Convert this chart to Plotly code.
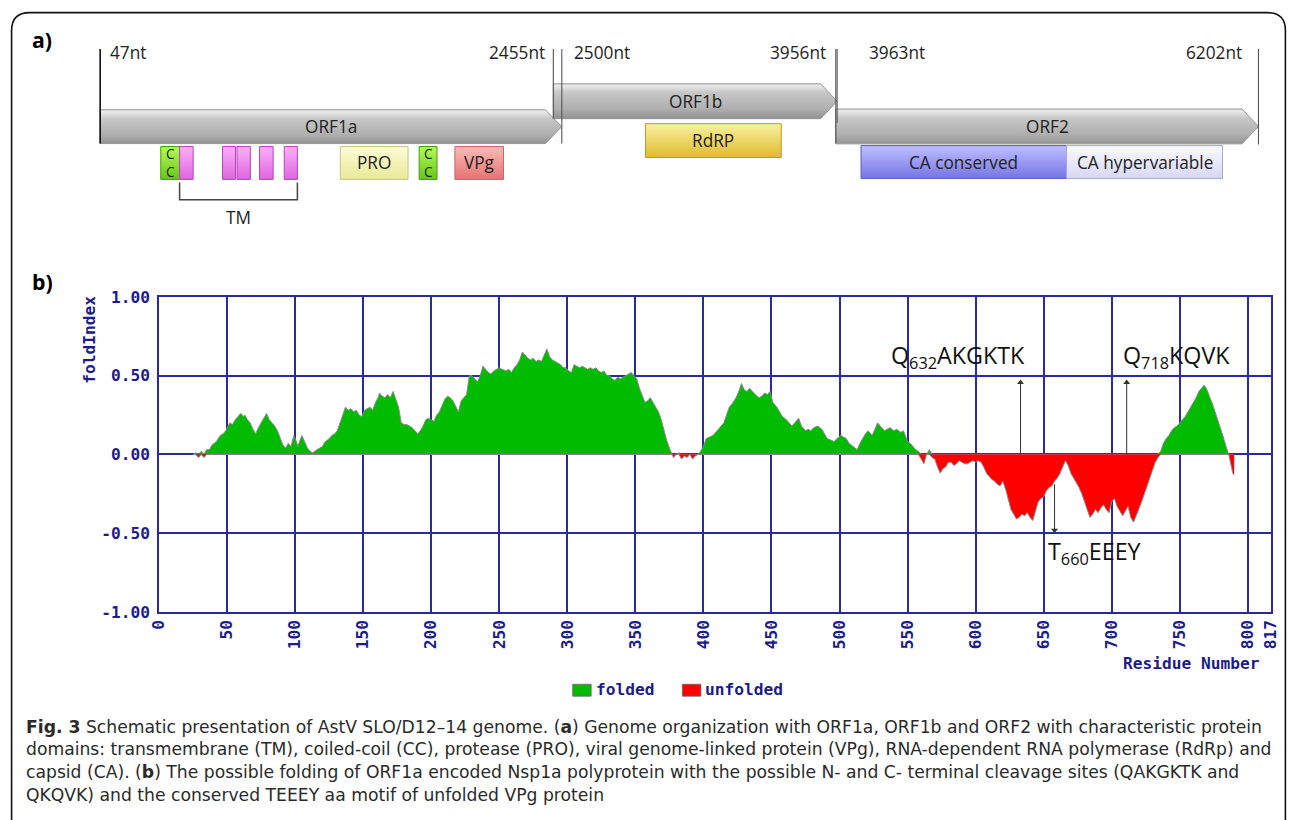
import plotly.graph_objects as go

# ---------------- data ----------------
# Panel a: genome organisation (nt)
MARK_NT = [47, 2455, 2500, 3956, 3963, 6202]
MARK_LABELS = ["47nt", "2455nt", "2500nt", "3956nt", "3963nt", "6202nt"]

ORF_NAMES = ["ORF1a", "ORF1b", "ORF2"]
ORF_START = [47, 2455, 3956]
ORF_END = [2500, 3963, 6202]

DOMAIN_NAMES = ["CC", "TM", "TM", "TM", "TM", "TM", "PRO", "CC", "VPg",
                "RdRP", "CA conserved", "CA hypervariable"]
DOMAIN_ORF = ["ORF1a"] * 9 + ["ORF1b", "ORF2", "ORF2"]
DOMAIN_START = [369, 469, 697, 774, 894, 1025, 1323, 1742, 1932, 2945, 4090, 5182]
DOMAIN_END = [469, 541, 766, 845, 966, 1095, 1683, 1837, 2190, 3666, 5182, 6011]

# Panel b: FoldIndex profile
RESIDUE = [25, 27, 29, 31, 33, 35, 37, 39, 42, 45, 47, 49, 52, 54, 56, 58, 60, 62, 63, 65,
           67, 69, 71, 73, 75, 77, 79, 81, 83, 85, 87, 89, 91, 93, 95, 97, 99, 101, 102, 104,
           105, 107, 109, 111, 113, 116, 118, 120, 122, 125, 127, 129, 131, 133, 135, 137, 139, 141, 143, 145,
           147, 149, 151, 153, 155, 157, 159, 161, 162, 164, 166, 168, 170, 172, 174, 176, 178, 180, 182, 184,
           186, 188, 190, 192, 194, 196, 198, 200, 202, 204, 206, 208, 210, 212, 214, 216, 218, 220, 222, 224,
           226, 228, 230, 232, 234, 236, 238, 240, 242, 244, 246, 248, 250, 252, 255, 257, 259, 261, 263, 265,
           267, 269, 271, 273, 275, 277, 279, 281, 283, 285, 287, 289, 291, 293, 295, 297, 299, 301, 303, 305,
           307, 309, 311, 313, 315, 317, 319, 321, 323, 325, 327, 329, 331, 333, 335, 337, 339, 341, 343, 345,
           347, 349, 351, 353, 355, 357, 359, 361, 363, 365, 367, 369, 371, 373, 375, 377, 378, 380, 382, 384,
           386, 388, 390, 392, 394, 396, 398, 400, 402, 404, 407, 410, 412, 415, 417, 419, 421, 424, 426, 428,
           430, 432, 434, 436, 438, 441, 443, 445, 447, 449, 451, 454, 456, 458, 461, 463, 465, 467, 470, 472,
           475, 477, 479, 481, 484, 487, 489, 491, 494, 496, 498, 501, 503, 505, 507, 510, 513, 515, 517, 519,
           521, 524, 526, 528, 530, 533, 535, 537, 540, 542, 545, 547, 550, 552, 554, 556, 558, 560, 562, 564,
           566, 568, 570, 572, 574, 576, 578, 580, 582, 584, 586, 588, 590, 592, 594, 596, 598, 600, 602, 604,
           606, 608, 610, 612, 614, 616, 618, 620, 622, 624, 626, 628, 630, 632, 634, 636, 638, 640, 642, 644,
           646, 648, 650, 652, 654, 656, 658, 660, 662, 664, 666, 668, 670, 672, 674, 676, 678, 680, 682, 684,
           686, 688, 690, 692, 694, 696, 698, 700, 702, 704, 706, 708, 710, 712, 714, 716, 718, 720, 722, 724,
           726, 728, 730, 732, 734, 736, 738, 740, 742, 744, 746, 748, 750, 752, 754, 756, 758, 760, 762, 764,
           766, 768, 770, 772, 774, 776, 778, 780, 782, 784, 786, 787, 788, 789, 790]
FOLD_INDEX = [0.0, 0.01, -0.02, 0.02, -0.02, 0.03, 0.03, 0.06, 0.08, 0.12, 0.13, 0.15, 0.2, 0.19, 0.22, 0.24, 0.26, 0.24, 0.25, 0.22,
              0.2, 0.16, 0.13, 0.17, 0.2, 0.23, 0.26, 0.22, 0.2, 0.18, 0.15, 0.1, 0.06, 0.04, 0.07, 0.05, 0.12, 0.08, 0.05, 0.1,
              0.12, 0.08, 0.04, 0.02, 0.01, 0.03, 0.04, 0.05, 0.08, 0.1, 0.12, 0.13, 0.15, 0.2, 0.26, 0.3, 0.28, 0.29, 0.27, 0.28,
              0.25, 0.24, 0.28, 0.29, 0.3, 0.28, 0.33, 0.36, 0.39, 0.37, 0.36, 0.38, 0.36, 0.4, 0.35, 0.3, 0.2, 0.19, 0.19, 0.18,
              0.17, 0.15, 0.13, 0.15, 0.18, 0.22, 0.23, 0.22, 0.21, 0.25, 0.27, 0.31, 0.35, 0.37, 0.36, 0.34, 0.3, 0.27, 0.34, 0.36,
              0.38, 0.5, 0.5, 0.48, 0.46, 0.5, 0.56, 0.54, 0.52, 0.51, 0.53, 0.54, 0.55, 0.54, 0.53, 0.54, 0.52, 0.55, 0.57, 0.6,
              0.65, 0.63, 0.61, 0.6, 0.61, 0.59, 0.6, 0.59, 0.63, 0.67, 0.62, 0.6, 0.59, 0.58, 0.57, 0.55, 0.55, 0.53, 0.52, 0.57,
              0.56, 0.55, 0.56, 0.55, 0.54, 0.55, 0.54, 0.55, 0.53, 0.52, 0.53, 0.5, 0.5, 0.48, 0.47, 0.49, 0.48, 0.49, 0.5, 0.51,
              0.52, 0.5, 0.48, 0.42, 0.38, 0.33, 0.34, 0.36, 0.33, 0.3, 0.27, 0.22, 0.15, 0.09, 0.04, 0.0, -0.02, 0.0, 0.01, -0.03,
              -0.01, -0.02, 0.0, -0.03, -0.01, 0.0, 0.02, 0.05, 0.1, 0.11, 0.12, 0.15, 0.17, 0.2, 0.25, 0.3, 0.32, 0.36, 0.4, 0.45,
              0.41, 0.4, 0.42, 0.4, 0.38, 0.36, 0.37, 0.39, 0.38, 0.4, 0.33, 0.3, 0.27, 0.24, 0.22, 0.2, 0.18, 0.2, 0.23, 0.18,
              0.15, 0.16, 0.15, 0.17, 0.18, 0.16, 0.13, 0.1, 0.09, 0.08, 0.1, 0.12, 0.11, 0.1, 0.07, 0.05, 0.03, 0.07, 0.1, 0.13,
              0.15, 0.12, 0.16, 0.2, 0.18, 0.15, 0.16, 0.17, 0.15, 0.16, 0.14, 0.15, 0.08, 0.07, 0.05, 0.03, 0.02, -0.03, -0.06, 0.0,
              0.03, -0.02, -0.03, -0.08, -0.12, -0.09, -0.08, -0.05, -0.05, -0.07, -0.06, -0.04, -0.05, -0.06, -0.06, -0.05, -0.04, -0.05, -0.04, -0.05,
              -0.08, -0.12, -0.14, -0.16, -0.17, -0.19, -0.2, -0.17, -0.22, -0.28, -0.35, -0.38, -0.41, -0.4, -0.38, -0.39, -0.37, -0.4, -0.42, -0.36,
              -0.3, -0.28, -0.27, -0.23, -0.21, -0.2, -0.17, -0.15, -0.12, -0.08, -0.04, -0.07, -0.12, -0.15, -0.18, -0.21, -0.25, -0.3, -0.34, -0.4,
              -0.38, -0.35, -0.37, -0.34, -0.32, -0.35, -0.37, -0.3, -0.28, -0.33, -0.36, -0.39, -0.36, -0.33, -0.4, -0.43, -0.39, -0.35, -0.3, -0.25,
              -0.2, -0.14, -0.1, -0.05, -0.02, 0.02, 0.07, 0.1, 0.12, 0.15, 0.17, 0.18, 0.2, 0.22, 0.24, 0.27, 0.3, 0.33, 0.36, 0.4,
              0.42, 0.44, 0.41, 0.37, 0.32, 0.27, 0.22, 0.17, 0.11, 0.05, 0.0, -0.04, -0.08, -0.12, -0.13]

X_TICKS = [0, 50, 100, 150, 200, 250, 300, 350, 400, 450, 500, 550, 600, 650, 700, 750, 800, 817]
Y_TICKS = [1.0, 0.5, 0.0, -0.5, -1.0]
Y_TICK_TEXT = ["1.00", "0.50", "0.00", "-0.50", "-1.00"]

CLEAVAGE_RES = [633, 711]
CLEAVAGE_LABELS = ["Q<sub>632</sub>AKGKTK", "Q<sub>718</sub>KQVK"]
MOTIF_RES = 658
MOTIF_LABEL = "T<sub>660</sub>EEEY"

CAPTION = [
    "<b>Fig. 3</b> Schematic presentation of AstV SLO/D12–14 genome. (<b>a</b>) Genome organization with ORF1a, ORF1b and ORF2 with characteristic protein",
    "domains: transmembrane (TM), coiled-coil (CC), protease (PRO), viral genome-linked protein (VPg), RNA-dependent RNA polymerase (RdRp) and",
    "capsid (CA). (<b>b</b>) The possible folding of ORF1a encoded Nsp1a polyprotein with the possible N- and C- terminal cleavage sites (QAKGKTK and",
    "QKQVK) and the conserved TEEEY aa motif of unfolded VPg protein",
]

# ---------------- styling ----------------
W, H = 1295, 820
NAVY = "#2a2a9e"
TXT_NAVY = "#1c1c8a"
MONO = "DejaVu Sans Mono"
SANS = "Open Sans"
FS = 1.013  # font compensation for the page scaling

# the photographed page is slightly offset and scaled; positions below are
# given in target-picture pixels and converted here
SX, OX = 0.9878, 7.9
SY, OY = 0.981, 7.85


def pxx(x):
    return (x - OX) / SX / W


def pxy(y):
    return 1 - (y - OY) / SY / H


# panel a axis: target pixel 98.3 <-> 47 nt, 1259.5 <-> 6202 nt
NT_PER_PX = (6202 - 47) / (1259.5 - 98.3)


def nt_at(px):
    return 47 + (px - 98.3) * NT_PER_PX


A_BOTTOM = 245  # bottom of panel a area (target pixels)
XA_RANGE = [nt_at(OX), nt_at(OX + SX * W)]
YA_RANGE = [A_BOTTOM, OY]
HEAD_NT = 16.5 * NT_PER_PX

ORF_ROW = {"ORF1a": (109, 143), "ORF1b": (83, 118), "ORF2": (108.3, 143.3)}
DOMAIN_ROW = {"ORF1a": (146, 179), "ORF1b": (123, 157), "ORF2": (145, 178)}
DOMAIN_STYLE = {
    "CC": ("#b0f550", "#5cc010", "#4a9a10"),
    "TM": ("#f8a8f8", "#dc5cdc", "#b844b8"),
    "PRO": ("#fbfbd0", "#e6e690", "#c4c48a"),
    "VPg": ("#f8b4b0", "#e46a6a", "#c86464"),
    "RdRP": ("#f8ec98", "#dcb620", "#c09a20"),
    "CA conserved": ("#b8b8ff", "#6c6ce0", "#5c5cc0"),
    "CA hypervariable": ("#f8f8ff", "#d2d2f2", "#a8a8cc"),
}
LBL = 17 * FS

fig = go.Figure()

# ---- panel a: ORF arrows ----
for name, s, e in zip(ORF_NAMES, ORF_START, ORF_END):
    top, bot = ORF_ROW[name]
    mid = (top + bot) / 2
    fig.add_trace(go.Scatter(
        x=[s, e - HEAD_NT, e, e - HEAD_NT, s, s],
        y=[top, top, mid, bot, bot, top],
        xaxis="x2", yaxis="y2", mode="lines", fill="toself",
        line=dict(color="#949494", width=1),
        fillgradient=dict(type="vertical", start=top, stop=bot,
                          colorscale=[[0, "#e8e8e8"], [0.2, "#c6c6c6"], [0.65, "#afafaf"], [1, "#8a8a8a"]]),
        hoverinfo="skip", showlegend=False))
    fig.add_annotation(x=(s + e) / 2, y=mid, xref="x2", yref="y2", text=name,
                       showarrow=False, font=dict(family=SANS, size=LBL, color="#222"))

# domain boxes
for name, orf, s, e in zip(DOMAIN_NAMES, DOMAIN_ORF, DOMAIN_START, DOMAIN_END):
    top, bot = DOMAIN_ROW[orf]
    c_top, c_bot, c_line = DOMAIN_STYLE[name]
    fig.add_trace(go.Scatter(
        x=[s, e, e, s, s], y=[top, top, bot, bot, top],
        xaxis="x2", yaxis="y2", mode="lines", fill="toself",
        line=dict(color=c_line, width=1),
        fillgradient=dict(type="vertical", start=top, stop=bot,
                          colorscale=[[0, c_top], [1, c_bot]]),
        hoverinfo="skip", showlegend=False))
    if name == "CC":
        fig.add_annotation(x=(s + e) / 2, y=(top + bot) / 2, xref="x2", yref="y2",
                           text="C<br>C", showarrow=False,
                           font=dict(family=SANS, size=13.5 * FS, color="#222"))
    elif name != "TM":
        fig.add_annotation(x=(s + e) / 2, y=(top + bot) / 2, xref="x2", yref="y2",
                           text=name, showarrow=False,
                           font=dict(family=SANS, size=LBL, color="#222"))

# TM bracket
tm_s = [s for n, s in zip(DOMAIN_NAMES, DOMAIN_START) if n == "TM"]
tm_e = [e for n, e in zip(DOMAIN_NAMES, DOMAIN_END) if n == "TM"]
br_l, br_r = min(tm_s), max(tm_e)
fig.add_shape(type="path", xref="x2", yref="y2",
              path=f"M {br_l},182 L {br_l},199.5 L {br_r},199.5 L {br_r},182",
              line=dict(color="#444", width=1.5))
fig.add_annotation(x=(br_l + br_r) / 2, y=217, xref="x2", yref="y2", text="TM",
                   showarrow=False, font=dict(family=SANS, size=LBL, color="#222"))

# genome position markers
mark_bottom = [143, 118, 143, 143, 122, 144]
mark_anchor = ["left", "right", "left", "right", "left", "right"]
mark_shift = [8, -6, 10, -8, 30, -14]
for i, (nt, lab) in enumerate(zip(MARK_NT, MARK_LABELS)):
    fig.add_shape(type="line", xref="x2", yref="y2", x0=nt, x1=nt, y0=48, y1=mark_bottom[i],
                  line=dict(color="#111" if i == 0 else "#555", width=1.6 if i == 0 else 1.1))
    fig.add_annotation(x=nt, y=52, xref="x2", yref="y2", text=lab, showarrow=False,
                       xanchor=mark_anchor[i], xshift=mark_shift[i],
                       font=dict(family=SANS, size=LBL, color="#222"))

# ---- panel b: FoldIndex ----
pos = [max(v, 0) for v in FOLD_INDEX]
neg = [min(v, 0) for v in FOLD_INDEX]
fig.add_trace(go.Scatter(x=RESIDUE, y=pos, mode="lines", fill="tozeroy",
                         fillcolor="#00bb00", line=dict(color="#8a8a8a", width=1),
                         hoverinfo="skip", showlegend=False))
fig.add_trace(go.Scatter(x=RESIDUE, y=neg, mode="lines", fill="tozeroy",
                         fillcolor="#ff0000", line=dict(color="#8a8a8a", width=1),
                         hoverinfo="skip", showlegend=False))

# cleavage-site / motif arrows (stem + head)
ARROW_TAIL = [0.0, 0.0, -0.19]
ARROW_HEAD = [0.474, 0.474, -0.50]
arrow_res = CLEAVAGE_RES + [MOTIF_RES]
sx, sy = [], []
for r_, t_, h_ in zip(arrow_res, ARROW_TAIL, ARROW_HEAD):
    sx += [r_, r_, None]
    sy += [t_, h_ - (0.02 if h_ > 0 else -0.02), None]
fig.add_trace(go.Scatter(x=sx, y=sy, mode="lines", line=dict(color="#333", width=1),
                         hoverinfo="skip", showlegend=False))
fig.add_trace(go.Scatter(x=arrow_res, y=[h - (0.018 if h > 0 else -0.018) for h in ARROW_HEAD],
                         mode="markers", hoverinfo="skip", showlegend=False,
                         marker=dict(symbol=["triangle-up", "triangle-up", "triangle-down"],
                                     size=6, color="#333", line=dict(width=0))))

for res, lab, anchor, shift in zip(CLEAVAGE_RES, CLEAVAGE_LABELS, ["right", "left"], [6, -6]):
    fig.add_annotation(x=res, y=0.62, xref="x", yref="y", text=lab, showarrow=False,
                       xanchor=anchor, xshift=shift, yanchor="middle",
                       font=dict(family=SANS, size=23 * FS, color="#111"))
fig.add_annotation(x=MOTIF_RES, y=-0.62, xref="x", yref="y", text=MOTIF_LABEL,
                   showarrow=False, xanchor="left", xshift=-9, yanchor="middle",
                   font=dict(family=SANS, size=23 * FS, color="#111"))

# axis titles and legend
mono_font = dict(family=MONO, size=16 * FS, color=TXT_NAVY, weight="bold")
fig.add_annotation(x=pxx(88), y=pxy(340), xref="paper", yref="paper", text="foldIndex",
                   textangle=-90, xanchor="center", yanchor="middle", showarrow=False,
                   font=mono_font)
fig.add_annotation(x=pxx(1263), y=pxy(665), xref="paper", yref="paper", text="Residue Number",
                   xanchor="right", yanchor="middle", showarrow=False, font=mono_font)
for x0, col, lab in [(572, "#00bb00", "folded"), (682, "#ff0000", "unfolded")]:
    fig.add_shape(type="rect", xref="paper", yref="paper", x0=pxx(x0), x1=pxx(x0 + 18.5),
                  y0=pxy(698), y1=pxy(686), fillcolor=col, line=dict(color="#666", width=0.8))
    fig.add_annotation(x=pxx(x0 + 21), y=pxy(691.5), xref="paper", yref="paper", text=lab,
                       xanchor="left", yanchor="middle", showarrow=False, font=mono_font)

# panel letters
for lab, y in [("a)", 38), ("b)", 282)]:
    fig.add_annotation(x=pxx(40), y=pxy(y), xref="paper", yref="paper", text=f"<b>{lab}</b>",
                       xanchor="center", yanchor="middle", showarrow=False,
                       font=dict(family=SANS, size=21 * FS, color="#000"))

# caption
for i, line in enumerate(CAPTION):
    fig.add_annotation(x=pxx(22), y=pxy(728.5 + 22.9 * i), xref="paper", yref="paper",
                       text=line, xanchor="left", yanchor="middle", showarrow=False,
                       font=dict(family="DejaVu Sans", size=17.2, color="#2a2a2a"))

# outer rounded frame
L, T, R, B, r = 9.5, 11.5, 1286.5, 840, 18
fig.add_shape(type="path", xref="paper", yref="paper",
              path=(f"M {pxx(L)},{pxy(B)} L {pxx(L)},{pxy(T + r)} Q {pxx(L)},{pxy(T)} {pxx(L + r)},{pxy(T)} "
                    f"L {pxx(R - r)},{pxy(T)} Q {pxx(R)},{pxy(T)} {pxx(R)},{pxy(T + r)} L {pxx(R)},{pxy(B)}"),
              line=dict(color="#111", width=1.6))

axis_common = dict(showgrid=True, gridcolor=NAVY, gridwidth=1.5, showline=True, mirror=True,
                   linecolor=NAVY, linewidth=1.5, zeroline=False, tickfont=mono_font, ticks="")
fig.update_layout(
    width=W, height=H, margin=dict(l=0, r=0, t=0, b=0),
    paper_bgcolor="white", plot_bgcolor="rgba(0,0,0,0)", showlegend=False,
    xaxis=dict(domain=[pxx(157.3), pxx(1272)], range=[0, 817], tickmode="array",
               tickvals=X_TICKS, ticktext=[str(t) for t in X_TICKS], tickangle=-90,
               ticklabelstandoff=0, anchor="y", **axis_common),
    yaxis=dict(domain=[pxy(613.3), pxy(297)], range=[-1, 1], tickmode="array",
               tickvals=Y_TICKS, ticktext=Y_TICK_TEXT, ticklabelstandoff=4, anchor="x",
               **axis_common),
    xaxis2=dict(domain=[0, 1], range=XA_RANGE, visible=False, anchor="y2", fixedrange=True),
    yaxis2=dict(domain=[pxy(A_BOTTOM), 1], range=YA_RANGE, visible=False, anchor="x2",
                fixedrange=True),
)

fig.write_html(
    "out.html",
    config={"displayModeBar": False},
    post_script=("document.documentElement.style.margin='0';document.body.style.margin='0';"
                 "document.documentElement.style.overflow='hidden';document.body.style.overflow='hidden';"),
)
